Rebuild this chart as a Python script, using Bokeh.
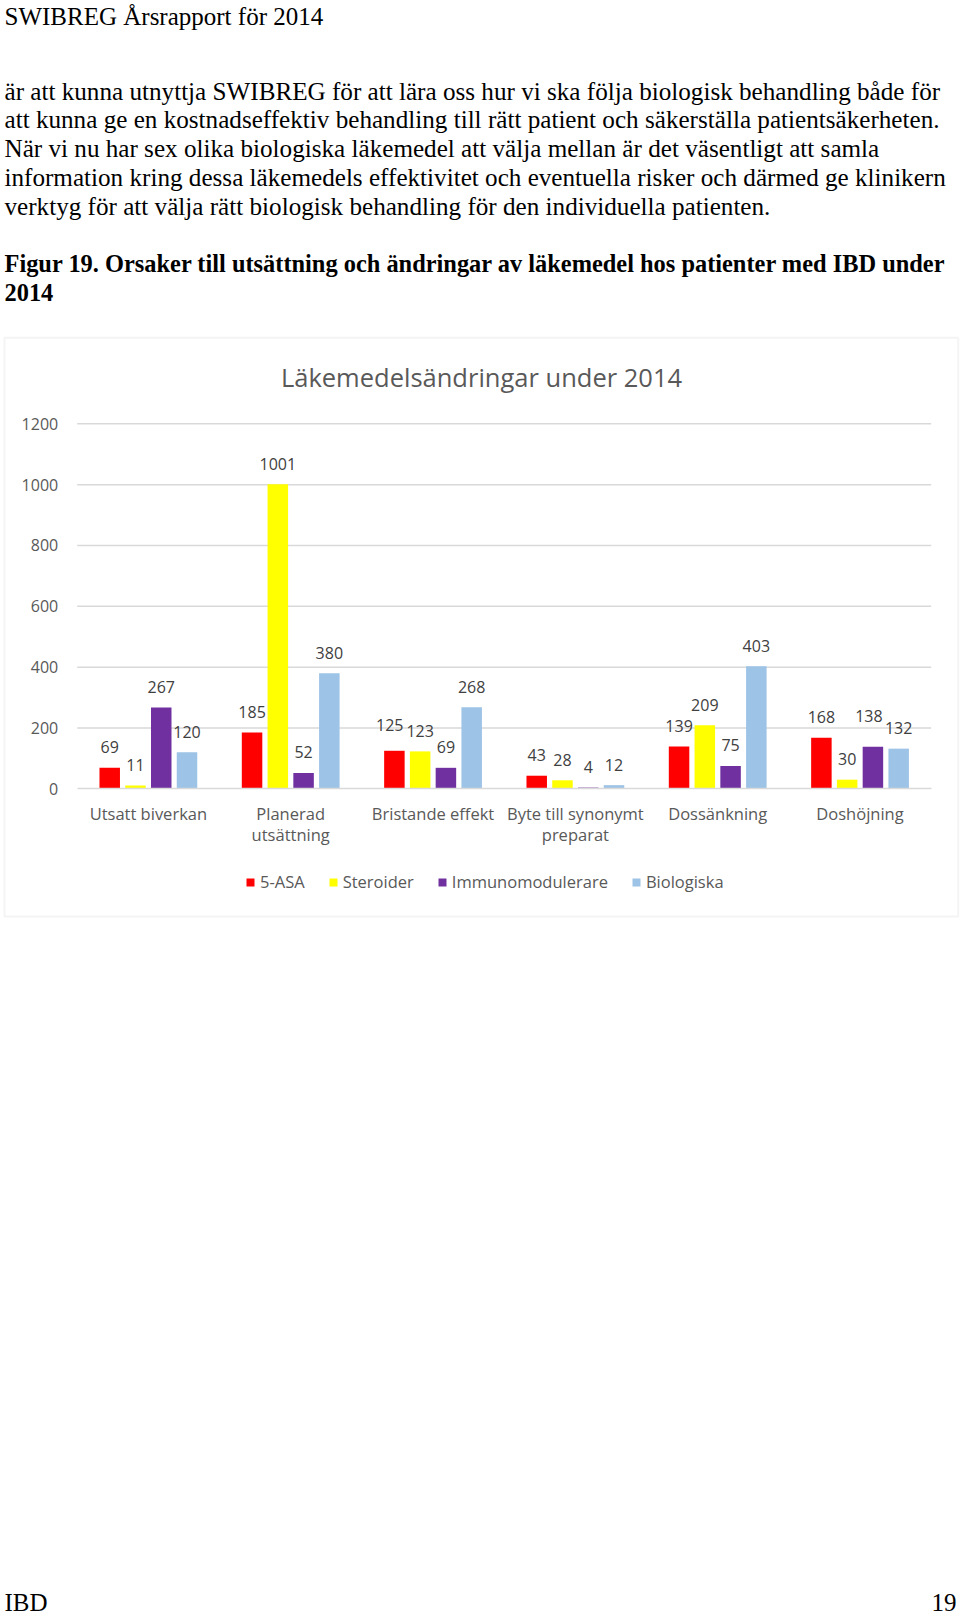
import numpy as np
from bokeh.plotting import figure
from bokeh.models import (ColumnDataSource, Range1d, FixedTicker, Label, Legend,
                          LegendItem, BoxAnnotation, LinearAxis)
from bokeh.transform import dodge
from bokeh.core.properties import value
from bokeh.embed import file_html
from bokeh.resources import INLINE

# ---------------- data ----------------
categories = ["Utsatt biverkan", "Planerad\nutsättning", "Bristande effekt",
              "Byte till synonymt\npreparat", "Dossänkning", "Doshöjning"]
series_names = ["5-ASA", "Steroider", "Immunomodulerare", "Biologiska"]
asa_5 = [69, 185, 125, 43, 139, 168]
steroider = [11, 1001, 123, 28, 209, 30]
immunomodulerare = [267, 52, 69, 4, 75, 138]
biologiska = [120, 380, 268, 12, 403, 132]
y_ticks = [0, 200, 400, 600, 800, 1000, 1200]

chart_title = "Läkemedelsändringar under 2014"
header = "SWIBREG Årsrapport för 2014"
body_lines = [
    "är att kunna utnyttja SWIBREG för att lära oss hur vi ska följa biologisk behandling både för",
    "att kunna ge en kostnadseffektiv behandling till rätt patient och säkerställa patientsäkerheten.",
    "När vi nu har sex olika biologiska läkemedel att välja mellan är det väsentligt att samla",
    "information kring dessa läkemedels effektivitet och eventuella risker och därmed ge klinikern",
    "verktyg för att välja rätt biologisk behandling för den individuella patienten.",
]
caption_lines = [
    "Figur 19. Orsaker till utsättning och ändringar av läkemedel hos patienter med IBD under",
    "2014",
]
footer_left = "IBD"
footer_right = "19"

# ---------------- styles / layout ----------------
colors = ["#FF0000", "#FFFF00", "#7030A0", "#9DC3E6"]
W, H = 960, 1617
PX_LEFT, PX_RIGHT = 76.7, 930.7      # pixel position of x = 0 and x = n categories
PX_ZERO, PX_TOP = 788.3, 423.3       # pixel position of y = 0 and y = 1200
NCAT = len(categories)
PXU = (PX_RIGHT - PX_LEFT) / NCAT
PYU = (PX_ZERO - PX_TOP) / 1200.0


def dx(px):
    return (px - PX_LEFT) / PXU


def dy(py):
    return (PX_ZERO - py) / PYU


SLOT = 0.181
BAR_W = 0.144
LABEL_RISE = -20.5
# manual nudges of a few data labels (series index, category index) -> (dx px, dy px)
nudges = {(0, 2): (-4.6, -5.0), (2, 5): (-4.0, -10.0)}

p = figure(width=W, height=H, output_backend="svg", toolbar_location=None,
           x_range=Range1d(dx(0), dx(W)), y_range=Range1d(dy(H), dy(0)),
           x_axis_type=None, y_axis_type=None,
           min_border=0, min_border_left=0, min_border_right=0, min_border_top=0,
           min_border_bottom=0, background_fill_color="white", border_fill_color="white")
p.outline_line_color = None

# gridlines
grid_y = y_ticks[1:]
p.segment(x0=[0] * len(grid_y), y0=grid_y, x1=[NCAT] * len(grid_y), y1=grid_y,
          line_color="#D9D9D9", line_width=1.5)

all_series = [asa_5, steroider, immunomodulerare, biologiska]
xs = np.arange(NCAT) + 0.5
renderers = []
for si, (vals, col) in enumerate(zip(all_series, colors)):
    off = (si - 1.5) * SLOT
    xo = [nudges.get((si, ci), (0, 0))[0] for ci in range(NCAT)]
    yo = [LABEL_RISE + nudges.get((si, ci), (0, 0))[1] for ci in range(NCAT)]
    src = ColumnDataSource(dict(x=xs, y=vals, label=[str(v) for v in vals], xo=xo, yo=yo))
    r = p.vbar(x=dodge("x", off), top="y", width=BAR_W, source=src,
               fill_color=col, line_color=None)
    renderers.append(r)
    p.text(x=dodge("x", off), y="y", text="label", x_offset="xo", y_offset="yo", source=src,
           text_align="center", text_baseline="middle",
           text_font=value("Open Sans"), text_font_size="16px", text_color="#404040")

# axes (drawn at fixed data locations inside the page-sized frame)
yaxis = LinearAxis(fixed_location=0, bounds=(0, 1200), ticker=FixedTicker(ticks=y_ticks))
yaxis.axis_line_color = None
yaxis.major_tick_line_color = None
yaxis.minor_tick_line_color = None
yaxis.major_label_standoff = 13
yaxis.major_label_text_font = "Open Sans"
yaxis.major_label_text_font_size = "16px"
yaxis.major_label_text_color = "#595959"
p.add_layout(yaxis, "left")

xaxis = LinearAxis(fixed_location=0, bounds=(0, NCAT), ticker=FixedTicker(ticks=list(xs)))
xaxis.major_label_overrides = {float(x): c for x, c in zip(xs, categories)}
xaxis.axis_line_color = "#D9D9D9"
xaxis.axis_line_width = 1.5
xaxis.major_tick_line_color = None
xaxis.minor_tick_line_color = None
xaxis.major_label_standoff = 7
xaxis.major_label_text_font = "Open Sans"
xaxis.major_label_text_font_size = "16.5px"
xaxis.major_label_text_color = "#595959"
xaxis.major_label_text_line_height = 0.93
p.add_layout(xaxis, "below")

# legend
legend = Legend(items=[LegendItem(label=n, renderers=[r]) for n, r in zip(series_names, renderers)],
                orientation="horizontal", location=(245, H - 893),
                glyph_width=10, glyph_height=10, label_standoff=5, spacing=23, padding=0,
                label_text_font="Open Sans", label_text_font_size="16.5px",
                label_text_color="#595959", border_line_color=None, background_fill_alpha=0)
p.add_layout(legend, "center")

# chart frame box
p.add_layout(BoxAnnotation(left=dx(4), right=dx(957.7), top=dy(337.3), bottom=dy(916),
                           fill_alpha=0, line_color="#D9D9D9", line_width=2))

# chart title
p.add_layout(Label(x=dx(481), y=dy(376.5), text=chart_title, text_align="center",
                   text_baseline="middle", text_font="Open Sans",
                   text_font_size="25.5px", text_color="#595959"))

# page text (y values are the vertical centres of the capitals)
serif = "Liberation Serif"
p.add_layout(Label(x=dx(4), y=dy(16), text=header, text_font=serif, text_font_size="25px",
                   text_color="black", text_baseline="middle"))
for i, line in enumerate(body_lines):
    p.add_layout(Label(x=dx(4), y=dy(90.7 + i * 28.75), text=line, text_font=serif,
                       text_font_size="25.15px", text_color="black", text_baseline="middle"))
for i, line in enumerate(caption_lines):
    p.add_layout(Label(x=dx(4), y=dy(263.4 + i * 28.3), text=line, text_font=serif,
                       text_font_size="24.4px", text_font_style="bold", text_color="black",
                       text_baseline="middle"))
p.add_layout(Label(x=dx(4), y=dy(1601.5), text=footer_left, text_font=serif, text_font_size="25px",
                   text_color="black", text_baseline="middle"))
p.add_layout(Label(x=dx(956), y=dy(1601.5), text=footer_right, text_font=serif,
                   text_font_size="25px", text_color="black", text_baseline="middle",
                   text_align="right"))

open("out.html", "w").write(file_html(p, INLINE))
